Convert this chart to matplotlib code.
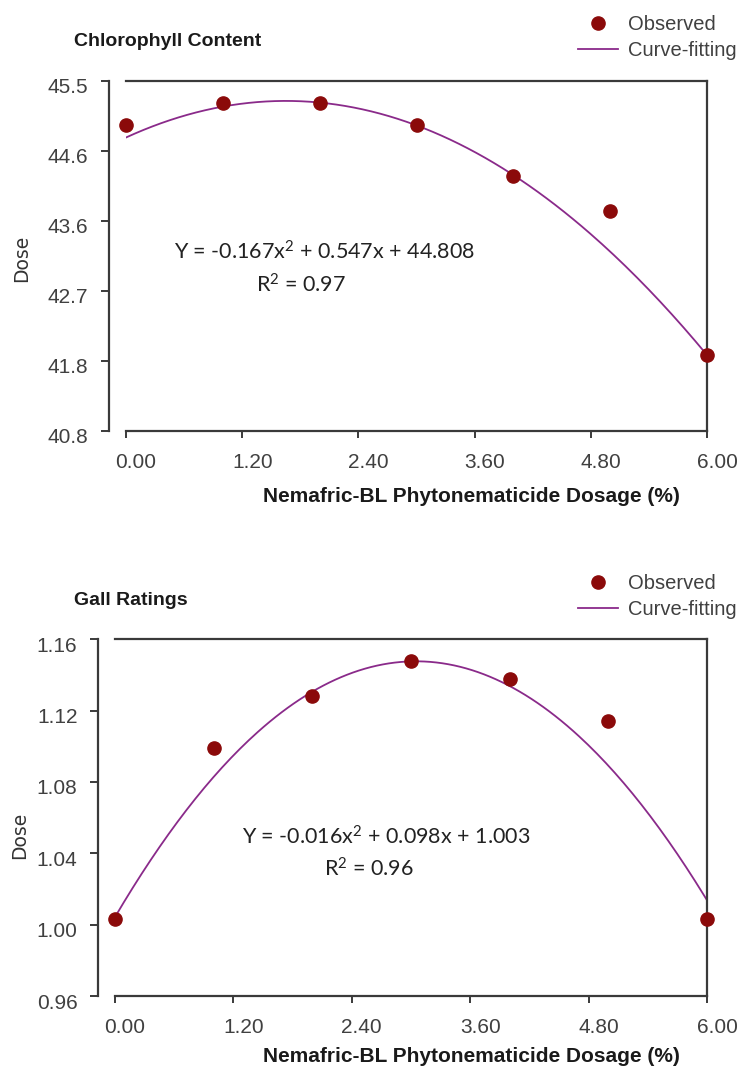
import numpy as np
import matplotlib.pyplot as plt
from matplotlib.transforms import ScaledTranslation

plt.rcParams["mathtext.fontset"] = "custom"
plt.rcParams["mathtext.rm"] = "Lato"
plt.rcParams["mathtext.it"] = "Lato"

# ===================== data =====================
dosage = [0, 1, 2, 3, 4, 5, 6]

chl_observed = [44.90, 45.20, 45.20, 44.90, 44.22, 43.75, 41.82]
chl_curve = [44.70, 45.18, 45.25, 44.94, 44.13, 43.20, 41.85]   # fitted line
chl_yticks = [40.8, 41.74, 42.68, 43.62, 44.56, 45.5]
chl_ylabels = ["40.8", "41.8", "42.7", "43.6", "44.6", "45.5"]
chl_eq = r"Y = -0.167x$^{\rm 2}$ + 0.547x + 44.808"
chl_r2 = r"R$^{\rm 2}$ = 0.97"

gall_observed = [1.003, 1.099, 1.128, 1.148, 1.138, 1.114, 1.003]
gall_curve = [1.006, 1.082, 1.127, 1.148, 1.137, 1.090, 1.012]
gall_yticks = [0.96, 1.00, 1.04, 1.08, 1.12, 1.16]
gall_ylabels = ["0.96", "1.00", "1.04", "1.08", "1.12", "1.16"]
gall_eq = r"Y = -0.016x$^{\rm 2}$ + 0.098x + 1.003"
gall_r2 = r"R$^{\rm 2}$ = 0.96"

xticks = [0, 1.2, 2.4, 3.6, 4.8, 6.0]
xlabels = ["0.00", "1.20", "2.40", "3.60", "4.80", "6.00"]

SANS = ["Liberation Sans", "DejaVu Sans"]
W, H = 746, 1075


def fx(px):
    return px / W


def fy(py):
    return 1 - py / H


def panel(fig, box, title, obs, curve, yticks, ylabels, eq, r2, eq_xy, r2_xy, dose_xy, xlab_off):
    left, top, right, bottom = box
    ax = fig.add_axes([fx(left), fy(bottom), fx(right - left), (bottom - top) / H])

    # smooth quadratic through the curve values
    c = np.polyfit(dosage, curve, 2)
    xs = np.linspace(0, 6, 200)
    ax.plot(xs, np.polyval(c, xs), color="#8a2a8a", lw=1.3, label="Curve-fitting", zorder=2)
    ax.plot(dosage, obs, "o", color="#8b0a0a", ms=9.5, label="Observed", clip_on=False, zorder=3)

    ax.set_xlim(0, 6)
    ax.set_ylim(yticks[0], yticks[-1])
    ax.set_xticks(xticks)
    ax.set_xticklabels(xlabels)
    ax.set_yticks(yticks)
    ax.set_yticklabels(ylabels)

    for s in ax.spines.values():
        s.set_color("#3a3a3a")
        s.set_linewidth(1.6)
    ax.spines["left"].set_position(("outward", 12))

    ax.tick_params(axis="x", direction="out", length=5, width=1.4, color="#3a3a3a",
                   pad=11, labelsize=15, labelcolor="#404040")
    ax.tick_params(axis="y", direction="out", length=6, width=1.4, color="#3a3a3a",
                   pad=9, labelsize=15, labelcolor="#404040")
    for lab in ax.get_xticklabels():
        lab.set_family(SANS)
        lab.set_transform(lab.get_transform() + ScaledTranslation(0.10, 0, fig.dpi_scale_trans))
    for lab in ax.get_yticklabels():
        lab.set_family(SANS)
        lab.set_transform(lab.get_transform() + ScaledTranslation(0, -0.05, fig.dpi_scale_trans))

    ax.set_xlabel("Nemafric-BL Phytonematicide Dosage (%)", family=SANS, fontsize=15,
                  fontweight="bold", color="#1a1a1a")
    ax.xaxis.set_label_coords((471 - left) / (right - left), -xlab_off / (bottom - top))

    fig.text(fx(dose_xy[0]), fy(dose_xy[1]), "Dose", rotation=90, ha="center", va="center",
             family="DejaVu Sans", fontsize=13.5, color="#333333")
    fig.text(fx(74), fy(top - 39), title, ha="left", va="center", family=SANS,
             fontsize=14, fontweight="bold", color="#1a1a1a")
    fig.text(fx(eq_xy[0]), fy(eq_xy[1]), eq, ha="center", va="center", family="Lato",
             fontsize=15.5, color="#222222")
    fig.text(fx(r2_xy[0]), fy(r2_xy[1]), r2, ha="center", va="center", family="Lato",
             fontsize=15.5, color="#222222")

    h, l = ax.get_legend_handles_labels()
    leg = ax.legend(h[::-1], l[::-1], loc="center left", bbox_to_anchor=(fx(568), fy(top - 43)),
                    bbox_transform=fig.transFigure, frameon=False, handlelength=2.0,
                    handletextpad=0.5, labelspacing=0.35, borderpad=0,
                    prop={"family": SANS, "size": 14.5})
    for t in leg.get_texts():
        t.set_color("#404040")
    return ax


fig = plt.figure(figsize=(W / 100, H / 100), dpi=100)
fig.patch.set_facecolor("white")

panel(fig, (126, 80.7, 707, 430.7), "Chlorophyll Content", chl_observed, chl_curve,
      chl_yticks, chl_ylabels, chl_eq, chl_r2, (324, 252), (301, 285), (22, 258), 56)
panel(fig, (115, 639.3, 707, 996), "Gall Ratings", gall_observed, gall_curve,
      gall_yticks, gall_ylabels, gall_eq, gall_r2, (386, 837), (369, 869), (20, 835), 51)

fig.savefig("out.png", dpi=100, facecolor="white")
